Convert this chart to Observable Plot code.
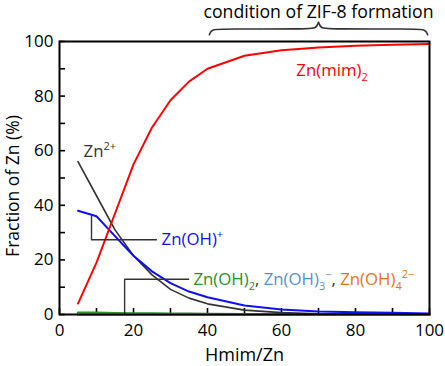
<!DOCTYPE html>
<html><head><meta charset="utf-8">
<script src="https://cdn.jsdelivr.net/npm/d3@7"></script>
<script src="https://cdn.jsdelivr.net/npm/@observablehq/plot@0.6"></script>
<style>body{margin:0;background:#fff}</style>
</head><body><div id="chart"></div>
<script>
// Data
const ratio  = [5,10,15,20,25,30,35,40,50,60,70,80,90,100];
const znMim2 = [4,19,37,55,68.5,78.5,85.3,90,94.8,96.8,97.8,98.4,98.8,99.1];
const zn2    = [56,43.5,31,21.5,14.5,9.2,6,3.9,1.6,0.7,0.3,0.2,0.1,0.1];
const znOH   = [38,36,28.7,21.5,15.8,11.5,8.4,6.3,3.3,1.8,1.1,0.8,0.6,0.4];
const znOH2  = [0.6,0.6,0.5,0.4,0.35,0.3,0.25,0.2,0.1,0.1,0.05,0.05,0.05,0.05];
const znOH3  = [0.1,0.1,0.1,0.1,0.1,0.1,0.1,0.1,0.1,0.1,0.1,0.1,0.1,0.1];
const znOH4  = [0,0,0,0,0,0,0,0,0,0,0,0,0,0];
const xTicks = [0,10,20,30,40,50,60,70,80,90,100];
const yTicks = [0,10,20,30,40,50,60,70,80,90,100];
const braceRange = [40.5, 99.5];
const braceLevels = [102.5, 104.6, 107];

const series = [
  {name:"Zn(OH)2", values: znOH2, color:"#2a8f2a", w:2.5},
  {name:"Zn(OH)3-", values: znOH3, color:"#5b8fd0", w:2.5},
  {name:"Zn(OH)4 2-", values: znOH4, color:"#e8731a", w:2.5},
  {name:"Zn2+", values: zn2, color:"#333333", w:1.6},
  {name:"Zn(OH)+", values: znOH, color:"#1010f0", w:2},
  {name:"Zn(mim)2", values: znMim2, color:"#ff0000", w:2}
];
const rows = series.flatMap(s => ratio.map((r,i) => ({s: s.name, x: r, y: s.values[i]})));

const leaderA = [{x:8.65,y:36},{x:8.65,y:27.4},{x:26.2,y:27.4}];
const leaderB = [{x:17.6,y:0},{x:17.6,y:12.9},{x:34.9,y:12.9}];

const labels = [
  {key:"L1", x:6.5, y:59.6, segs:[["Zn","#333"],["2+","#333","sup"]]},
  {key:"L2", x:64, y:89.4, segs:[["Zn(mim)","#ff0000"],["2","#ff0000","sub"]]},
  {key:"L3", x:27.6, y:27.4, segs:[["Zn(OH)","#1010f0"],["+","#1010f0","sup"]]},
  {key:"L4", x:36.2, y:12.8, segs:[["Zn(OH)","#2a8f2a"],["2","#2a8f2a","sub"],[", ","#333"],
      ["Zn(OH)","#5b8fd0"],["3","#5b8fd0","sub"],["\u2212","#5b8fd0","sup"],[", ","#333"],
      ["Zn(OH)","#e8731a"],["4","#e8731a","sub"],["2\u2212","#e8731a","sup"]]}
];

// brace points derived from braceRange / braceLevels
const [b0, b1] = braceRange; const bm = (b0 + b1) / 2;
const [yE, yB, yT] = braceLevels;
const brace = [
  ...[[b0,yE],[b0+0.6,yB],[b0+4,yB],[bm-3,yB],[bm-0.6,yB+0.2],[bm,yT]].map(([x,y]) => ({side:"L",x,y})),
  ...[[b1,yE],[b1-0.6,yB],[b1-4,yB],[bm+3,yB],[bm+0.6,yB+0.2],[bm,yT]].map(([x,y]) => ({side:"R",x,y}))
];

const font = "Open Sans, sans-serif";
const svg = Plot.plot({
  width: 445, height: 366,
  marginLeft: 59, marginRight: 16, marginTop: 41, marginBottom: 52,
  style: {fontFamily: font, fontSize: "17px", background: "white", color: "black", overflow: "visible"},
  x: {domain: [0,100]},
  y: {domain: [0,100]},
  marks: [
    Plot.axisX({ticks: xTicks, tickSize: -6, tickPadding: 15, strokeWidth: 1.6, label: null, fontSize: 17,
      tickFormat: d => d % 20 === 0 ? String(d) : ""}),
    Plot.axisY({ticks: yTicks, tickSize: -6, tickPadding: 12, strokeWidth: 1.6, label: null, fontSize: 17,
      tickFormat: d => d % 20 === 0 ? String(d) : ""}),
    ...series.map(s => Plot.line(rows.filter(r => r.s === s.name), {x:"x", y:"y", stroke: s.color, strokeWidth: s.w})),
    Plot.line(leaderA, {x:"x", y:"y", stroke:"#333", strokeWidth:1.4}),
    Plot.line(leaderB, {x:"x", y:"y", stroke:"#333", strokeWidth:1.4}),
    Plot.line(brace, {x:"x", y:"y", z:"side", curve:"basis", stroke:"#333", strokeWidth:1.6}),
    Plot.text(labels, {x:"x", y:"y", text:"key", textAnchor:"start", lineAnchor:"middle", fontSize:16.8}),
    Plot.text(["condition of ZIF-8 formation"], {x: bm, frameAnchor:"top", lineAnchor:"middle", textAnchor:"middle", dy:-29, fontSize:17.7, fill:"black"}),
    Plot.text(["Hmim/Zn"], {frameAnchor:"bottom", lineAnchor:"middle", textAnchor:"middle", dy:41, fontSize:18, fill:"black"}),
    Plot.text(["Fraction of Zn (%)"], {frameAnchor:"left", lineAnchor:"middle", textAnchor:"middle", dx:-46, dy:8, rotate:-90, fontSize:17.5, fill:"black"}),
    Plot.frame({stroke:"black", strokeWidth:2})
  ]
});

// rich text (sub/superscripts, mixed colours)
const byKey = Object.fromEntries(labels.map(l => [l.key, l.segs]));
d3.select(svg).selectAll("text").each(function() {
  const segs = byKey[this.textContent];
  if (!segs) return;
  const t = d3.select(this);
  t.text(null);
  let off = 0;
  for (const [str, col, kind] of segs) {
    const target = kind === "sup" ? -7 : kind === "sub" ? 5 : 0;
    const ts = t.append("tspan").attr("fill", col).attr("dy", target - off).text(str);
    if (kind) ts.attr("font-size", 11);
    off = target;
  }
});

document.getElementById("chart").appendChild(svg);
</script>
</body></html>
